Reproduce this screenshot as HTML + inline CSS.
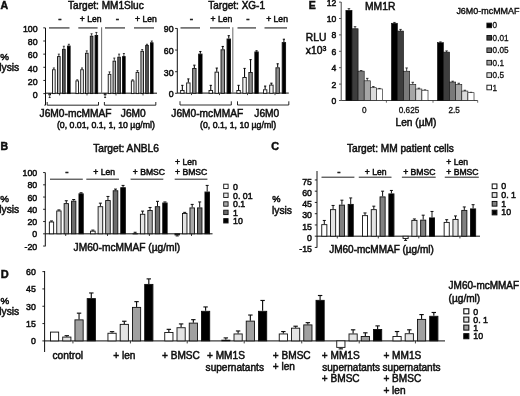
<!DOCTYPE html>
<html><head><meta charset="utf-8"><title>Figure</title>
<style>
html,body{margin:0;padding:0;background:#fff;}
body{width:520px;height:396px;overflow:hidden;}
svg{display:block;font-family:"Liberation Sans",sans-serif;}
</style></head><body>
<svg width="520" height="396" viewBox="0 0 520 396">
<defs><filter id="bl" x="0" y="0" width="520" height="396" filterUnits="userSpaceOnUse"><feGaussianBlur stdDeviation="0.4"/></filter></defs>
<rect x="0" y="0" width="520" height="396" fill="#fff"/>
<g filter="url(#bl)">
<text x="0.50" y="8.70" font-size="10.5" text-anchor="start" font-weight="bold" fill="#111" stroke="#111" stroke-width="0.5" >A</text>
<text x="68.00" y="8.70" font-size="10.1" text-anchor="start" font-weight="normal" fill="#111" stroke="#111" stroke-width="0.5" >Target: MM1Sluc</text>
<line x1="45.50" y1="28.00" x2="45.50" y2="105.20" stroke="#111" stroke-width="1.0"/>
<line x1="43.30" y1="93.60" x2="45.50" y2="93.60" stroke="#111" stroke-width="0.9"/>
<text x="37.60" y="97.90" font-size="8.8" text-anchor="end" font-weight="normal" fill="#111" stroke="#111" stroke-width="0.5" >0</text>
<line x1="43.30" y1="80.45" x2="45.50" y2="80.45" stroke="#111" stroke-width="0.9"/>
<text x="37.60" y="84.75" font-size="8.8" text-anchor="end" font-weight="normal" fill="#111" stroke="#111" stroke-width="0.5" >20</text>
<line x1="43.30" y1="67.30" x2="45.50" y2="67.30" stroke="#111" stroke-width="0.9"/>
<text x="37.60" y="71.60" font-size="8.8" text-anchor="end" font-weight="normal" fill="#111" stroke="#111" stroke-width="0.5" >40</text>
<line x1="43.30" y1="54.15" x2="45.50" y2="54.15" stroke="#111" stroke-width="0.9"/>
<text x="37.60" y="58.45" font-size="8.8" text-anchor="end" font-weight="normal" fill="#111" stroke="#111" stroke-width="0.5" >60</text>
<line x1="43.30" y1="41.00" x2="45.50" y2="41.00" stroke="#111" stroke-width="0.9"/>
<text x="37.60" y="45.30" font-size="8.8" text-anchor="end" font-weight="normal" fill="#111" stroke="#111" stroke-width="0.5" >80</text>
<line x1="43.30" y1="27.85" x2="45.50" y2="27.85" stroke="#111" stroke-width="0.9"/>
<text x="37.60" y="32.15" font-size="8.8" text-anchor="end" font-weight="normal" fill="#111" stroke="#111" stroke-width="0.5" >100</text>
<line x1="44.30" y1="105.20" x2="45.50" y2="105.20" stroke="#111" stroke-width="0.9"/>
<line x1="45.50" y1="93.20" x2="157.00" y2="93.20" stroke="#111" stroke-width="1.0"/>
<text x="0.30" y="59.60" font-size="9.8" text-anchor="start" font-weight="normal" fill="#111" stroke="#111" stroke-width="0.5" >%</text>
<text x="-0.80" y="71.30" font-size="10.3" text-anchor="start" font-weight="normal" fill="#111" stroke="#111" stroke-width="0.5" >lysis</text>
<line x1="49.00" y1="27.90" x2="69.50" y2="27.90" stroke="#5c5c5c" stroke-width="1.5"/>
<line x1="78.30" y1="27.90" x2="97.60" y2="27.90" stroke="#5c5c5c" stroke-width="1.5"/>
<line x1="105.00" y1="27.90" x2="125.00" y2="27.90" stroke="#5c5c5c" stroke-width="1.5"/>
<line x1="134.00" y1="27.90" x2="154.00" y2="27.90" stroke="#5c5c5c" stroke-width="1.5"/>
<line x1="101.60" y1="27.30" x2="101.60" y2="93.60" stroke="#777" stroke-width="1.1"/>
<text x="60.00" y="22.00" font-size="10" text-anchor="middle" font-weight="normal" fill="#111" stroke="#111" stroke-width="0.5" >-</text>
<text x="79.80" y="22.00" font-size="8.6" text-anchor="start" font-weight="normal" fill="#111" stroke="#111" stroke-width="0.5" >+ Len</text>
<text x="117.50" y="22.00" font-size="10" text-anchor="middle" font-weight="normal" fill="#111" stroke="#111" stroke-width="0.5" >-</text>
<text x="135.00" y="22.00" font-size="8.6" text-anchor="start" font-weight="normal" fill="#111" stroke="#111" stroke-width="0.5" >+ Len</text>
<line x1="49.70" y1="95.24" x2="49.70" y2="97.54" stroke="#111" stroke-width="0.8"/>
<line x1="48.70" y1="97.54" x2="50.70" y2="97.54" stroke="#111" stroke-width="0.8"/>
<rect x="48.85" y="93.60" width="1.70" height="1.19" fill="#fff" stroke="#111" stroke-width="0.9"/>
<line x1="53.85" y1="69.27" x2="53.85" y2="67.96" stroke="#111" stroke-width="0.8"/>
<line x1="52.85" y1="67.96" x2="54.85" y2="67.96" stroke="#111" stroke-width="0.8"/>
<rect x="52.55" y="69.72" width="2.60" height="23.88" fill="#f2f2f2" stroke="#111" stroke-width="0.9"/>
<line x1="58.85" y1="56.12" x2="58.85" y2="54.15" stroke="#111" stroke-width="0.8"/>
<line x1="57.85" y1="54.15" x2="59.85" y2="54.15" stroke="#111" stroke-width="0.8"/>
<rect x="57.55" y="56.57" width="2.60" height="37.03" fill="#b4b4b4" stroke="#111" stroke-width="0.9"/>
<line x1="63.85" y1="48.89" x2="63.85" y2="46.26" stroke="#111" stroke-width="0.8"/>
<line x1="62.85" y1="46.26" x2="64.85" y2="46.26" stroke="#111" stroke-width="0.8"/>
<rect x="62.55" y="49.34" width="2.60" height="44.26" fill="#5a5a5a" stroke="#111" stroke-width="0.9"/>
<line x1="68.85" y1="45.60" x2="68.85" y2="44.29" stroke="#111" stroke-width="0.8"/>
<line x1="67.85" y1="44.29" x2="69.85" y2="44.29" stroke="#111" stroke-width="0.8"/>
<rect x="67.55" y="46.05" width="2.60" height="47.55" fill="#000" stroke="#111" stroke-width="0.9"/>
<line x1="77.25" y1="80.45" x2="77.25" y2="79.79" stroke="#111" stroke-width="0.8"/>
<line x1="76.25" y1="79.79" x2="78.25" y2="79.79" stroke="#111" stroke-width="0.8"/>
<rect x="75.95" y="80.90" width="2.60" height="12.70" fill="#fff" stroke="#111" stroke-width="0.9"/>
<line x1="82.03" y1="69.27" x2="82.03" y2="67.96" stroke="#111" stroke-width="0.8"/>
<line x1="81.03" y1="67.96" x2="83.03" y2="67.96" stroke="#111" stroke-width="0.8"/>
<rect x="80.73" y="69.72" width="2.60" height="23.88" fill="#f2f2f2" stroke="#111" stroke-width="0.9"/>
<line x1="86.81" y1="52.83" x2="86.81" y2="50.86" stroke="#111" stroke-width="0.8"/>
<line x1="85.81" y1="50.86" x2="87.81" y2="50.86" stroke="#111" stroke-width="0.8"/>
<rect x="85.51" y="53.28" width="2.60" height="40.31" fill="#b4b4b4" stroke="#111" stroke-width="0.9"/>
<line x1="91.59" y1="35.74" x2="91.59" y2="33.77" stroke="#111" stroke-width="0.8"/>
<line x1="90.59" y1="33.77" x2="92.59" y2="33.77" stroke="#111" stroke-width="0.8"/>
<rect x="90.29" y="36.19" width="2.60" height="57.41" fill="#5a5a5a" stroke="#111" stroke-width="0.9"/>
<line x1="96.37" y1="35.08" x2="96.37" y2="32.45" stroke="#111" stroke-width="0.8"/>
<line x1="95.37" y1="32.45" x2="97.37" y2="32.45" stroke="#111" stroke-width="0.8"/>
<rect x="95.07" y="35.53" width="2.60" height="58.07" fill="#000" stroke="#111" stroke-width="0.9"/>
<line x1="105.10" y1="95.24" x2="105.10" y2="97.54" stroke="#111" stroke-width="0.8"/>
<line x1="104.10" y1="97.54" x2="106.10" y2="97.54" stroke="#111" stroke-width="0.8"/>
<rect x="104.25" y="93.60" width="1.70" height="1.19" fill="#fff" stroke="#111" stroke-width="0.9"/>
<line x1="109.53" y1="73.88" x2="109.53" y2="71.90" stroke="#111" stroke-width="0.8"/>
<line x1="108.53" y1="71.90" x2="110.53" y2="71.90" stroke="#111" stroke-width="0.8"/>
<rect x="108.23" y="74.33" width="2.60" height="19.27" fill="#f2f2f2" stroke="#111" stroke-width="0.9"/>
<line x1="114.31" y1="60.72" x2="114.31" y2="58.09" stroke="#111" stroke-width="0.8"/>
<line x1="113.31" y1="58.09" x2="115.31" y2="58.09" stroke="#111" stroke-width="0.8"/>
<rect x="113.01" y="61.17" width="2.60" height="32.42" fill="#b4b4b4" stroke="#111" stroke-width="0.9"/>
<line x1="119.09" y1="56.78" x2="119.09" y2="54.15" stroke="#111" stroke-width="0.8"/>
<line x1="118.09" y1="54.15" x2="120.09" y2="54.15" stroke="#111" stroke-width="0.8"/>
<rect x="117.79" y="57.23" width="2.60" height="36.37" fill="#5a5a5a" stroke="#111" stroke-width="0.9"/>
<line x1="123.87" y1="56.12" x2="123.87" y2="53.49" stroke="#111" stroke-width="0.8"/>
<line x1="122.87" y1="53.49" x2="124.87" y2="53.49" stroke="#111" stroke-width="0.8"/>
<rect x="122.57" y="56.57" width="2.60" height="37.03" fill="#000" stroke="#111" stroke-width="0.9"/>
<line x1="132.65" y1="80.45" x2="132.65" y2="79.79" stroke="#111" stroke-width="0.8"/>
<line x1="131.65" y1="79.79" x2="133.65" y2="79.79" stroke="#111" stroke-width="0.8"/>
<rect x="131.35" y="80.90" width="2.60" height="12.70" fill="#fff" stroke="#111" stroke-width="0.9"/>
<line x1="137.43" y1="71.90" x2="137.43" y2="70.59" stroke="#111" stroke-width="0.8"/>
<line x1="136.43" y1="70.59" x2="138.43" y2="70.59" stroke="#111" stroke-width="0.8"/>
<rect x="136.13" y="72.35" width="2.60" height="21.25" fill="#f2f2f2" stroke="#111" stroke-width="0.9"/>
<line x1="142.21" y1="50.86" x2="142.21" y2="49.55" stroke="#111" stroke-width="0.8"/>
<line x1="141.21" y1="49.55" x2="143.21" y2="49.55" stroke="#111" stroke-width="0.8"/>
<rect x="140.91" y="51.31" width="2.60" height="42.29" fill="#b4b4b4" stroke="#111" stroke-width="0.9"/>
<line x1="146.99" y1="44.94" x2="146.99" y2="44.29" stroke="#111" stroke-width="0.8"/>
<line x1="145.99" y1="44.29" x2="147.99" y2="44.29" stroke="#111" stroke-width="0.8"/>
<rect x="145.69" y="45.39" width="2.60" height="48.20" fill="#5a5a5a" stroke="#111" stroke-width="0.9"/>
<line x1="151.77" y1="42.31" x2="151.77" y2="41.00" stroke="#111" stroke-width="0.8"/>
<line x1="150.77" y1="41.00" x2="152.77" y2="41.00" stroke="#111" stroke-width="0.8"/>
<rect x="150.47" y="42.77" width="2.60" height="50.83" fill="#000" stroke="#111" stroke-width="0.9"/>
<polyline points="47.2,102 47.2,105.2 98.5,105.2 98.5,102" fill="none" stroke="#111" stroke-width="0.9"/>
<polyline points="104.4,102 104.4,105.2 155.8,105.2 155.8,102" fill="none" stroke="#111" stroke-width="0.9"/>
<line x1="59.60" y1="93.60" x2="59.60" y2="95.40" stroke="#111" stroke-width="0.8"/>
<line x1="87.00" y1="93.60" x2="87.00" y2="95.40" stroke="#111" stroke-width="0.8"/>
<line x1="116.00" y1="93.60" x2="116.00" y2="95.40" stroke="#111" stroke-width="0.8"/>
<line x1="143.00" y1="93.60" x2="143.00" y2="95.40" stroke="#111" stroke-width="0.8"/>
<text x="39.60" y="116.60" font-size="10.2" text-anchor="start" font-weight="normal" fill="#111" stroke="#111" stroke-width="0.5" >J6M0-mcMMAF</text>
<text x="120.80" y="116.60" font-size="10.2" text-anchor="start" font-weight="normal" fill="#111" stroke="#111" stroke-width="0.5" >J6M0</text>
<text x="56.90" y="128.40" font-size="8.75" text-anchor="start" font-weight="normal" fill="#111" stroke="#111" stroke-width="0.5" >(0, 0.01, 0.1, 1, 10 µg/ml)</text>
<text x="208.30" y="8.70" font-size="10.0" text-anchor="start" font-weight="normal" fill="#111" stroke="#111" stroke-width="0.5" >Target: XG-1</text>
<line x1="177.30" y1="28.30" x2="177.30" y2="93.30" stroke="#111" stroke-width="1.0"/>
<line x1="175.10" y1="93.30" x2="177.30" y2="93.30" stroke="#111" stroke-width="0.9"/>
<text x="173.60" y="97.20" font-size="8.8" text-anchor="end" font-weight="normal" fill="#111" stroke="#111" stroke-width="0.5" >0</text>
<line x1="175.10" y1="71.69" x2="177.30" y2="71.69" stroke="#111" stroke-width="0.9"/>
<text x="173.60" y="75.59" font-size="8.8" text-anchor="end" font-weight="normal" fill="#111" stroke="#111" stroke-width="0.5" >30</text>
<line x1="175.10" y1="50.07" x2="177.30" y2="50.07" stroke="#111" stroke-width="0.9"/>
<text x="173.60" y="53.97" font-size="8.8" text-anchor="end" font-weight="normal" fill="#111" stroke="#111" stroke-width="0.5" >60</text>
<line x1="175.10" y1="28.45" x2="177.30" y2="28.45" stroke="#111" stroke-width="0.9"/>
<text x="173.60" y="32.35" font-size="8.8" text-anchor="end" font-weight="normal" fill="#111" stroke="#111" stroke-width="0.5" >90</text>
<line x1="177.30" y1="93.10" x2="288.80" y2="93.10" stroke="#111" stroke-width="1.0"/>
<line x1="180.50" y1="27.90" x2="200.00" y2="27.90" stroke="#5c5c5c" stroke-width="1.5"/>
<line x1="210.00" y1="27.90" x2="230.00" y2="27.90" stroke="#5c5c5c" stroke-width="1.5"/>
<line x1="237.50" y1="27.90" x2="256.00" y2="27.90" stroke="#5c5c5c" stroke-width="1.5"/>
<line x1="264.50" y1="27.90" x2="287.00" y2="27.90" stroke="#5c5c5c" stroke-width="1.5"/>
<line x1="232.80" y1="27.30" x2="232.80" y2="93.30" stroke="#777" stroke-width="1.1"/>
<text x="191.50" y="22.00" font-size="10" text-anchor="middle" font-weight="normal" fill="#111" stroke="#111" stroke-width="0.5" >-</text>
<text x="210.50" y="22.00" font-size="8.6" text-anchor="start" font-weight="normal" fill="#111" stroke="#111" stroke-width="0.5" >+ Len</text>
<text x="248.00" y="22.00" font-size="10" text-anchor="middle" font-weight="normal" fill="#111" stroke="#111" stroke-width="0.5" >-</text>
<text x="266.20" y="22.00" font-size="8.6" text-anchor="start" font-weight="normal" fill="#111" stroke="#111" stroke-width="0.5" >+ Len</text>
<line x1="182.35" y1="90.06" x2="182.35" y2="85.37" stroke="#111" stroke-width="1.1"/>
<line x1="181.25" y1="85.37" x2="183.45" y2="85.37" stroke="#111" stroke-width="1.1"/>
<rect x="180.65" y="90.51" width="3.40" height="2.79" fill="#fff" stroke="#111" stroke-width="0.9"/>
<line x1="188.35" y1="82.49" x2="188.35" y2="78.89" stroke="#111" stroke-width="1.1"/>
<line x1="187.25" y1="78.89" x2="189.45" y2="78.89" stroke="#111" stroke-width="1.1"/>
<rect x="186.65" y="82.94" width="3.40" height="10.36" fill="#f2f2f2" stroke="#111" stroke-width="0.9"/>
<line x1="194.35" y1="68.08" x2="194.35" y2="65.20" stroke="#111" stroke-width="1.1"/>
<line x1="193.25" y1="65.20" x2="195.45" y2="65.20" stroke="#111" stroke-width="1.1"/>
<rect x="192.65" y="68.53" width="3.40" height="24.77" fill="#909090" stroke="#111" stroke-width="0.9"/>
<line x1="200.35" y1="53.67" x2="200.35" y2="51.51" stroke="#111" stroke-width="1.1"/>
<line x1="199.25" y1="51.51" x2="201.45" y2="51.51" stroke="#111" stroke-width="1.1"/>
<rect x="198.65" y="54.12" width="3.40" height="39.18" fill="#000" stroke="#111" stroke-width="0.9"/>
<line x1="210.75" y1="90.06" x2="210.75" y2="85.37" stroke="#111" stroke-width="1.1"/>
<line x1="209.65" y1="85.37" x2="211.85" y2="85.37" stroke="#111" stroke-width="1.1"/>
<rect x="209.05" y="90.51" width="3.40" height="2.79" fill="#fff" stroke="#111" stroke-width="0.9"/>
<line x1="216.75" y1="71.69" x2="216.75" y2="68.08" stroke="#111" stroke-width="1.1"/>
<line x1="215.65" y1="68.08" x2="217.85" y2="68.08" stroke="#111" stroke-width="1.1"/>
<rect x="215.05" y="72.14" width="3.40" height="21.16" fill="#f2f2f2" stroke="#111" stroke-width="0.9"/>
<line x1="222.75" y1="49.35" x2="222.75" y2="46.47" stroke="#111" stroke-width="1.1"/>
<line x1="221.65" y1="46.47" x2="223.85" y2="46.47" stroke="#111" stroke-width="1.1"/>
<rect x="221.05" y="49.80" width="3.40" height="43.50" fill="#909090" stroke="#111" stroke-width="0.9"/>
<line x1="228.75" y1="38.54" x2="228.75" y2="35.66" stroke="#111" stroke-width="1.1"/>
<line x1="227.65" y1="35.66" x2="229.85" y2="35.66" stroke="#111" stroke-width="1.1"/>
<rect x="227.05" y="38.99" width="3.40" height="54.31" fill="#000" stroke="#111" stroke-width="0.9"/>
<line x1="238.55" y1="90.06" x2="238.55" y2="85.37" stroke="#111" stroke-width="1.1"/>
<line x1="237.45" y1="85.37" x2="239.65" y2="85.37" stroke="#111" stroke-width="1.1"/>
<rect x="236.85" y="90.51" width="3.40" height="2.79" fill="#fff" stroke="#111" stroke-width="0.9"/>
<line x1="244.55" y1="77.09" x2="244.55" y2="68.44" stroke="#111" stroke-width="1.1"/>
<line x1="243.45" y1="68.44" x2="245.65" y2="68.44" stroke="#111" stroke-width="1.1"/>
<rect x="242.85" y="77.54" width="3.40" height="15.76" fill="#f2f2f2" stroke="#111" stroke-width="0.9"/>
<line x1="250.55" y1="72.05" x2="250.55" y2="59.58" stroke="#111" stroke-width="1.1"/>
<line x1="249.45" y1="59.58" x2="251.65" y2="59.58" stroke="#111" stroke-width="1.1"/>
<rect x="248.85" y="72.50" width="3.40" height="20.80" fill="#909090" stroke="#111" stroke-width="0.9"/>
<line x1="256.55" y1="51.51" x2="256.55" y2="50.79" stroke="#111" stroke-width="1.1"/>
<line x1="255.45" y1="50.79" x2="257.65" y2="50.79" stroke="#111" stroke-width="1.1"/>
<rect x="254.85" y="51.96" width="3.40" height="41.34" fill="#000" stroke="#111" stroke-width="0.9"/>
<line x1="265.15" y1="89.34" x2="265.15" y2="86.09" stroke="#111" stroke-width="1.1"/>
<line x1="264.05" y1="86.09" x2="266.25" y2="86.09" stroke="#111" stroke-width="1.1"/>
<rect x="263.45" y="89.79" width="3.40" height="3.51" fill="#fff" stroke="#111" stroke-width="0.9"/>
<line x1="271.40" y1="84.65" x2="271.40" y2="83.21" stroke="#111" stroke-width="1.1"/>
<line x1="270.30" y1="83.21" x2="272.50" y2="83.21" stroke="#111" stroke-width="1.1"/>
<rect x="269.70" y="85.10" width="3.40" height="8.20" fill="#f2f2f2" stroke="#111" stroke-width="0.9"/>
<line x1="277.65" y1="67.36" x2="277.65" y2="63.76" stroke="#111" stroke-width="1.1"/>
<line x1="276.55" y1="63.76" x2="278.75" y2="63.76" stroke="#111" stroke-width="1.1"/>
<rect x="275.95" y="67.81" width="3.40" height="25.49" fill="#909090" stroke="#111" stroke-width="0.9"/>
<line x1="283.90" y1="42.14" x2="283.90" y2="39.26" stroke="#111" stroke-width="1.1"/>
<line x1="282.80" y1="39.26" x2="285.00" y2="39.26" stroke="#111" stroke-width="1.1"/>
<rect x="282.20" y="42.59" width="3.40" height="50.71" fill="#000" stroke="#111" stroke-width="0.9"/>
<polyline points="180,101.3 180,105 231.3,105 231.3,101.3" fill="none" stroke="#111" stroke-width="0.9"/>
<polyline points="237.5,101.3 237.5,105 288.8,105 288.8,101.3" fill="none" stroke="#111" stroke-width="0.9"/>
<line x1="191.50" y1="93.30" x2="191.50" y2="95.10" stroke="#111" stroke-width="0.8"/>
<line x1="219.50" y1="93.30" x2="219.50" y2="95.10" stroke="#111" stroke-width="0.8"/>
<line x1="247.50" y1="93.30" x2="247.50" y2="95.10" stroke="#111" stroke-width="0.8"/>
<line x1="275.00" y1="93.30" x2="275.00" y2="95.10" stroke="#111" stroke-width="0.8"/>
<text x="171.30" y="116.60" font-size="10.2" text-anchor="start" font-weight="normal" fill="#111" stroke="#111" stroke-width="0.5" >J6M0-mcMMAF</text>
<text x="254.30" y="116.60" font-size="10.2" text-anchor="start" font-weight="normal" fill="#111" stroke="#111" stroke-width="0.5" >J6M0</text>
<text x="200.00" y="128.40" font-size="8.75" text-anchor="start" font-weight="normal" fill="#111" stroke="#111" stroke-width="0.5" >(0, 0.1, 1, 10 µg/ml)</text>
<text x="308.70" y="8.70" font-size="10.5" text-anchor="start" font-weight="bold" fill="#111" stroke="#111" stroke-width="0.5" >E</text>
<text x="365.00" y="10.20" font-size="10.3" text-anchor="start" font-weight="normal" fill="#111" stroke="#111" stroke-width="0.5" >MM1R</text>
<line x1="341.20" y1="2.00" x2="341.20" y2="100.50" stroke="#444" stroke-width="1.0"/>
<line x1="339.00" y1="100.50" x2="341.20" y2="100.50" stroke="#444" stroke-width="0.9"/>
<text x="336.30" y="103.90" font-size="8.6" text-anchor="end" font-weight="normal" fill="#111" stroke="#111" stroke-width="0.5" >0</text>
<line x1="339.00" y1="84.10" x2="341.20" y2="84.10" stroke="#444" stroke-width="0.9"/>
<text x="336.30" y="87.50" font-size="8.6" text-anchor="end" font-weight="normal" fill="#111" stroke="#111" stroke-width="0.5" >2</text>
<line x1="339.00" y1="67.70" x2="341.20" y2="67.70" stroke="#444" stroke-width="0.9"/>
<text x="336.30" y="71.10" font-size="8.6" text-anchor="end" font-weight="normal" fill="#111" stroke="#111" stroke-width="0.5" >4</text>
<line x1="339.00" y1="51.30" x2="341.20" y2="51.30" stroke="#444" stroke-width="0.9"/>
<text x="336.30" y="54.70" font-size="8.6" text-anchor="end" font-weight="normal" fill="#111" stroke="#111" stroke-width="0.5" >6</text>
<line x1="339.00" y1="34.90" x2="341.20" y2="34.90" stroke="#444" stroke-width="0.9"/>
<text x="336.30" y="38.30" font-size="8.6" text-anchor="end" font-weight="normal" fill="#111" stroke="#111" stroke-width="0.5" >8</text>
<line x1="339.00" y1="18.50" x2="341.20" y2="18.50" stroke="#444" stroke-width="0.9"/>
<text x="336.30" y="21.90" font-size="8.6" text-anchor="end" font-weight="normal" fill="#111" stroke="#111" stroke-width="0.5" >10</text>
<line x1="339.00" y1="2.10" x2="341.20" y2="2.10" stroke="#444" stroke-width="0.9"/>
<text x="336.30" y="5.50" font-size="8.6" text-anchor="end" font-weight="normal" fill="#111" stroke="#111" stroke-width="0.5" >12</text>
<line x1="341.20" y1="100.50" x2="477.70" y2="100.50" stroke="#444" stroke-width="1.0"/>
<text x="305.80" y="41.30" font-size="10.3" text-anchor="start" font-weight="normal" fill="#111" stroke="#111" stroke-width="0.5" >RLU</text>
<text x="305.80" y="53.80" font-size="10.3" text-anchor="start" font-weight="normal" fill="#111" stroke="#111" stroke-width="0.5" >x10<tspan font-size="7" dy="-3.2">3</tspan></text>
<line x1="348.95" y1="10.30" x2="348.95" y2="8.66" stroke="#111" stroke-width="0.8"/>
<line x1="347.70" y1="8.66" x2="350.20" y2="8.66" stroke="#111" stroke-width="0.8"/>
<rect x="345.90" y="10.30" width="6.10" height="90.20" fill="#000" stroke="#111" stroke-width="0.6"/>
<line x1="355.05" y1="28.75" x2="355.05" y2="26.70" stroke="#111" stroke-width="0.8"/>
<line x1="353.80" y1="26.70" x2="356.30" y2="26.70" stroke="#111" stroke-width="0.8"/>
<rect x="352.00" y="28.75" width="6.10" height="71.75" fill="#3c3c3c" stroke="#111" stroke-width="0.6"/>
<line x1="361.15" y1="71.14" x2="361.15" y2="70.57" stroke="#111" stroke-width="0.8"/>
<line x1="359.90" y1="70.57" x2="362.40" y2="70.57" stroke="#111" stroke-width="0.8"/>
<rect x="358.10" y="71.14" width="6.10" height="29.36" fill="#7a7a7a" stroke="#111" stroke-width="0.6"/>
<line x1="367.25" y1="80.82" x2="367.25" y2="78.36" stroke="#111" stroke-width="0.8"/>
<line x1="366.00" y1="78.36" x2="368.50" y2="78.36" stroke="#111" stroke-width="0.8"/>
<rect x="364.20" y="80.82" width="6.10" height="19.68" fill="#a6a6a6" stroke="#111" stroke-width="0.6"/>
<line x1="373.35" y1="87.71" x2="373.35" y2="86.56" stroke="#111" stroke-width="0.8"/>
<line x1="372.10" y1="86.56" x2="374.60" y2="86.56" stroke="#111" stroke-width="0.8"/>
<rect x="370.30" y="87.71" width="6.10" height="12.79" fill="#dcdcdc" stroke="#111" stroke-width="0.6"/>
<line x1="379.45" y1="88.94" x2="379.45" y2="88.45" stroke="#111" stroke-width="0.8"/>
<line x1="378.20" y1="88.45" x2="380.70" y2="88.45" stroke="#111" stroke-width="0.8"/>
<rect x="376.40" y="88.94" width="6.10" height="11.56" fill="#fff" stroke="#111" stroke-width="0.6"/>
<line x1="394.45" y1="23.26" x2="394.45" y2="22.44" stroke="#111" stroke-width="0.8"/>
<line x1="393.20" y1="22.44" x2="395.70" y2="22.44" stroke="#111" stroke-width="0.8"/>
<rect x="391.40" y="23.26" width="6.10" height="77.24" fill="#000" stroke="#111" stroke-width="0.6"/>
<line x1="400.55" y1="31.05" x2="400.55" y2="29.41" stroke="#111" stroke-width="0.8"/>
<line x1="399.30" y1="29.41" x2="401.80" y2="29.41" stroke="#111" stroke-width="0.8"/>
<rect x="397.50" y="31.05" width="6.10" height="69.45" fill="#3c3c3c" stroke="#111" stroke-width="0.6"/>
<line x1="406.65" y1="71.23" x2="406.65" y2="67.95" stroke="#111" stroke-width="0.8"/>
<line x1="405.40" y1="67.95" x2="407.90" y2="67.95" stroke="#111" stroke-width="0.8"/>
<rect x="403.60" y="71.23" width="6.10" height="29.27" fill="#7a7a7a" stroke="#111" stroke-width="0.6"/>
<line x1="412.75" y1="84.35" x2="412.75" y2="82.30" stroke="#111" stroke-width="0.8"/>
<line x1="411.50" y1="82.30" x2="414.00" y2="82.30" stroke="#111" stroke-width="0.8"/>
<rect x="409.70" y="84.35" width="6.10" height="16.15" fill="#a6a6a6" stroke="#111" stroke-width="0.6"/>
<line x1="418.85" y1="89.02" x2="418.85" y2="88.20" stroke="#111" stroke-width="0.8"/>
<line x1="417.60" y1="88.20" x2="420.10" y2="88.20" stroke="#111" stroke-width="0.8"/>
<rect x="415.80" y="89.02" width="6.10" height="11.48" fill="#dcdcdc" stroke="#111" stroke-width="0.6"/>
<line x1="424.95" y1="90.25" x2="424.95" y2="89.84" stroke="#111" stroke-width="0.8"/>
<line x1="423.70" y1="89.84" x2="426.20" y2="89.84" stroke="#111" stroke-width="0.8"/>
<rect x="421.90" y="90.25" width="6.10" height="10.25" fill="#fff" stroke="#111" stroke-width="0.6"/>
<line x1="440.45" y1="42.69" x2="440.45" y2="41.87" stroke="#111" stroke-width="0.8"/>
<line x1="439.20" y1="41.87" x2="441.70" y2="41.87" stroke="#111" stroke-width="0.8"/>
<rect x="437.40" y="42.69" width="6.10" height="57.81" fill="#000" stroke="#111" stroke-width="0.6"/>
<line x1="446.55" y1="52.12" x2="446.55" y2="50.89" stroke="#111" stroke-width="0.8"/>
<line x1="445.30" y1="50.89" x2="447.80" y2="50.89" stroke="#111" stroke-width="0.8"/>
<rect x="443.50" y="52.12" width="6.10" height="48.38" fill="#3c3c3c" stroke="#111" stroke-width="0.6"/>
<line x1="452.65" y1="82.05" x2="452.65" y2="81.23" stroke="#111" stroke-width="0.8"/>
<line x1="451.40" y1="81.23" x2="453.90" y2="81.23" stroke="#111" stroke-width="0.8"/>
<rect x="449.60" y="82.05" width="6.10" height="18.45" fill="#7a7a7a" stroke="#111" stroke-width="0.6"/>
<line x1="458.75" y1="84.51" x2="458.75" y2="83.28" stroke="#111" stroke-width="0.8"/>
<line x1="457.50" y1="83.28" x2="460.00" y2="83.28" stroke="#111" stroke-width="0.8"/>
<rect x="455.70" y="84.51" width="6.10" height="15.99" fill="#a6a6a6" stroke="#111" stroke-width="0.6"/>
<line x1="464.85" y1="91.07" x2="464.85" y2="90.25" stroke="#111" stroke-width="0.8"/>
<line x1="463.60" y1="90.25" x2="466.10" y2="90.25" stroke="#111" stroke-width="0.8"/>
<rect x="461.80" y="91.07" width="6.10" height="9.43" fill="#dcdcdc" stroke="#111" stroke-width="0.6"/>
<line x1="470.95" y1="92.71" x2="470.95" y2="92.30" stroke="#111" stroke-width="0.8"/>
<line x1="469.70" y1="92.30" x2="472.20" y2="92.30" stroke="#111" stroke-width="0.8"/>
<rect x="467.90" y="92.71" width="6.10" height="7.79" fill="#fff" stroke="#111" stroke-width="0.6"/>
<line x1="386.40" y1="100.50" x2="386.40" y2="102.70" stroke="#444" stroke-width="0.8"/>
<line x1="433.00" y1="100.50" x2="433.00" y2="102.70" stroke="#444" stroke-width="0.8"/>
<line x1="477.70" y1="100.50" x2="477.70" y2="102.70" stroke="#444" stroke-width="0.8"/>
<text x="364.40" y="113.00" font-size="8.2" text-anchor="middle" font-weight="normal" fill="#111" stroke="#111" stroke-width="0.3" >0</text>
<text x="409.00" y="113.00" font-size="8.2" text-anchor="middle" font-weight="normal" fill="#111" stroke="#111" stroke-width="0.3" >0.625</text>
<text x="454.20" y="113.00" font-size="8.2" text-anchor="middle" font-weight="normal" fill="#111" stroke="#111" stroke-width="0.3" >2.5</text>
<text x="395.50" y="126.00" font-size="10.2" text-anchor="start" font-weight="normal" fill="#111" stroke="#111" stroke-width="0.5" >Len (µM)</text>
<text x="456.40" y="13.80" font-size="8.95" text-anchor="start" font-weight="normal" fill="#111" stroke="#111" stroke-width="0.4" >J6M0-mcMMAF</text>
<rect x="486.90" y="23.10" width="4.60" height="4.60" fill="#000" stroke="#111" stroke-width="0.9"/>
<text x="492.60" y="28.40" font-size="8.2" text-anchor="start" font-weight="normal" fill="#111" stroke="#111" stroke-width="0.3" >0</text>
<rect x="486.90" y="35.52" width="4.60" height="4.60" fill="#3c3c3c" stroke="#111" stroke-width="0.9"/>
<text x="492.60" y="40.82" font-size="8.2" text-anchor="start" font-weight="normal" fill="#111" stroke="#111" stroke-width="0.3" >0.01</text>
<rect x="486.90" y="47.94" width="4.60" height="4.60" fill="#7a7a7a" stroke="#111" stroke-width="0.9"/>
<text x="492.60" y="53.24" font-size="8.2" text-anchor="start" font-weight="normal" fill="#111" stroke="#111" stroke-width="0.3" >0.05</text>
<rect x="486.90" y="60.36" width="4.60" height="4.60" fill="#a6a6a6" stroke="#111" stroke-width="0.9"/>
<text x="492.60" y="65.66" font-size="8.2" text-anchor="start" font-weight="normal" fill="#111" stroke="#111" stroke-width="0.3" >0.1</text>
<rect x="486.90" y="72.78" width="4.60" height="4.60" fill="#dcdcdc" stroke="#111" stroke-width="0.9"/>
<text x="492.60" y="78.08" font-size="8.2" text-anchor="start" font-weight="normal" fill="#111" stroke="#111" stroke-width="0.3" >0.5</text>
<rect x="486.90" y="85.20" width="4.60" height="4.60" fill="#fff" stroke="#111" stroke-width="0.9"/>
<text x="492.60" y="90.50" font-size="8.2" text-anchor="start" font-weight="normal" fill="#111" stroke="#111" stroke-width="0.3" >1</text>
<text x="0.50" y="149.60" font-size="10.5" text-anchor="start" font-weight="bold" fill="#111" stroke="#111" stroke-width="0.5" >B</text>
<text x="93.20" y="152.20" font-size="10.2" text-anchor="start" font-weight="normal" fill="#111" stroke="#111" stroke-width="0.5" >Target: ANBL6</text>
<line x1="45.30" y1="172.60" x2="45.30" y2="246.30" stroke="#111" stroke-width="1.0"/>
<line x1="43.10" y1="246.05" x2="45.30" y2="246.05" stroke="#111" stroke-width="0.9"/>
<text x="37.20" y="249.65" font-size="8.8" text-anchor="end" font-weight="normal" fill="#111" stroke="#111" stroke-width="0.5" >-20</text>
<line x1="43.10" y1="233.80" x2="45.30" y2="233.80" stroke="#111" stroke-width="0.9"/>
<text x="37.20" y="237.40" font-size="8.8" text-anchor="end" font-weight="normal" fill="#111" stroke="#111" stroke-width="0.5" >0</text>
<line x1="43.10" y1="221.55" x2="45.30" y2="221.55" stroke="#111" stroke-width="0.9"/>
<text x="37.20" y="225.15" font-size="8.8" text-anchor="end" font-weight="normal" fill="#111" stroke="#111" stroke-width="0.5" >20</text>
<line x1="43.10" y1="209.30" x2="45.30" y2="209.30" stroke="#111" stroke-width="0.9"/>
<text x="37.20" y="212.90" font-size="8.8" text-anchor="end" font-weight="normal" fill="#111" stroke="#111" stroke-width="0.5" >40</text>
<line x1="43.10" y1="197.05" x2="45.30" y2="197.05" stroke="#111" stroke-width="0.9"/>
<text x="37.20" y="200.65" font-size="8.8" text-anchor="end" font-weight="normal" fill="#111" stroke="#111" stroke-width="0.5" >60</text>
<line x1="43.10" y1="184.80" x2="45.30" y2="184.80" stroke="#111" stroke-width="0.9"/>
<text x="37.20" y="188.40" font-size="8.8" text-anchor="end" font-weight="normal" fill="#111" stroke="#111" stroke-width="0.5" >80</text>
<line x1="43.10" y1="172.55" x2="45.30" y2="172.55" stroke="#111" stroke-width="0.9"/>
<text x="37.20" y="176.15" font-size="8.8" text-anchor="end" font-weight="normal" fill="#111" stroke="#111" stroke-width="0.5" >100</text>
<line x1="45.50" y1="233.80" x2="212.50" y2="233.80" stroke="#111" stroke-width="1.0"/>
<text x="0.30" y="201.70" font-size="9.8" text-anchor="start" font-weight="normal" fill="#111" stroke="#111" stroke-width="0.5" >%</text>
<text x="-0.80" y="213.30" font-size="10.3" text-anchor="start" font-weight="normal" fill="#111" stroke="#111" stroke-width="0.5" >lysis</text>
<line x1="50.00" y1="179.20" x2="82.80" y2="179.20" stroke="#222" stroke-width="1.0"/>
<line x1="86.30" y1="179.20" x2="119.00" y2="179.20" stroke="#222" stroke-width="1.0"/>
<line x1="130.60" y1="179.20" x2="163.30" y2="179.20" stroke="#222" stroke-width="1.0"/>
<line x1="174.70" y1="179.20" x2="207.40" y2="179.20" stroke="#222" stroke-width="1.0"/>
<text x="67.00" y="175.20" font-size="10" text-anchor="middle" font-weight="normal" fill="#111" stroke="#111" stroke-width="0.5" >-</text>
<text x="93.30" y="175.30" font-size="8.6" text-anchor="start" font-weight="normal" fill="#111" stroke="#111" stroke-width="0.5" >+ Len</text>
<text x="132.80" y="175.30" font-size="8.6" text-anchor="start" font-weight="normal" fill="#111" stroke="#111" stroke-width="0.5" >+ BMSC</text>
<text x="175.00" y="165.00" font-size="8.6" text-anchor="start" font-weight="normal" fill="#111" stroke="#111" stroke-width="0.5" >+ Len</text>
<text x="175.00" y="175.00" font-size="8.6" text-anchor="start" font-weight="normal" fill="#111" stroke="#111" stroke-width="0.5" >+ BMSC</text>
<line x1="51.50" y1="221.55" x2="51.50" y2="220.94" stroke="#111" stroke-width="1.0"/>
<line x1="50.00" y1="220.94" x2="53.00" y2="220.94" stroke="#111" stroke-width="1.0"/>
<rect x="49.35" y="222.00" width="4.30" height="11.80" fill="#fff" stroke="#111" stroke-width="0.9"/>
<line x1="58.90" y1="210.53" x2="58.90" y2="209.91" stroke="#111" stroke-width="1.0"/>
<line x1="57.40" y1="209.91" x2="60.40" y2="209.91" stroke="#111" stroke-width="1.0"/>
<rect x="56.75" y="210.97" width="4.30" height="22.83" fill="#e4e4e4" stroke="#111" stroke-width="0.9"/>
<line x1="66.30" y1="203.18" x2="66.30" y2="200.73" stroke="#111" stroke-width="1.0"/>
<line x1="64.80" y1="200.73" x2="67.80" y2="200.73" stroke="#111" stroke-width="1.0"/>
<rect x="64.15" y="203.62" width="4.30" height="30.18" fill="#a8a8a8" stroke="#111" stroke-width="0.9"/>
<line x1="73.70" y1="200.73" x2="73.70" y2="199.50" stroke="#111" stroke-width="1.0"/>
<line x1="72.20" y1="199.50" x2="75.20" y2="199.50" stroke="#111" stroke-width="1.0"/>
<rect x="71.55" y="201.18" width="4.30" height="32.62" fill="#6c6c6c" stroke="#111" stroke-width="0.9"/>
<line x1="81.10" y1="193.38" x2="81.10" y2="192.76" stroke="#111" stroke-width="1.0"/>
<line x1="79.60" y1="192.76" x2="82.60" y2="192.76" stroke="#111" stroke-width="1.0"/>
<rect x="78.95" y="193.82" width="4.30" height="39.98" fill="#000" stroke="#111" stroke-width="0.9"/>
<line x1="92.85" y1="230.74" x2="92.85" y2="230.12" stroke="#111" stroke-width="1.0"/>
<line x1="91.35" y1="230.12" x2="94.35" y2="230.12" stroke="#111" stroke-width="1.0"/>
<rect x="90.55" y="231.19" width="4.60" height="2.61" fill="#fff" stroke="#111" stroke-width="0.9"/>
<line x1="100.40" y1="206.24" x2="100.40" y2="203.18" stroke="#111" stroke-width="1.0"/>
<line x1="98.90" y1="203.18" x2="101.90" y2="203.18" stroke="#111" stroke-width="1.0"/>
<rect x="98.10" y="206.69" width="4.60" height="27.11" fill="#e4e4e4" stroke="#111" stroke-width="0.9"/>
<line x1="107.95" y1="200.11" x2="107.95" y2="196.44" stroke="#111" stroke-width="1.0"/>
<line x1="106.45" y1="196.44" x2="109.45" y2="196.44" stroke="#111" stroke-width="1.0"/>
<rect x="105.65" y="200.56" width="4.60" height="33.24" fill="#a8a8a8" stroke="#111" stroke-width="0.9"/>
<line x1="115.50" y1="190.31" x2="115.50" y2="189.09" stroke="#111" stroke-width="1.0"/>
<line x1="114.00" y1="189.09" x2="117.00" y2="189.09" stroke="#111" stroke-width="1.0"/>
<rect x="113.20" y="190.76" width="4.60" height="43.04" fill="#6c6c6c" stroke="#111" stroke-width="0.9"/>
<line x1="123.05" y1="187.25" x2="123.05" y2="185.41" stroke="#111" stroke-width="1.0"/>
<line x1="121.55" y1="185.41" x2="124.55" y2="185.41" stroke="#111" stroke-width="1.0"/>
<rect x="120.75" y="187.70" width="4.60" height="46.10" fill="#000" stroke="#111" stroke-width="0.9"/>
<line x1="135.15" y1="233.49" x2="135.15" y2="232.27" stroke="#111" stroke-width="1.0"/>
<line x1="133.65" y1="232.27" x2="136.65" y2="232.27" stroke="#111" stroke-width="1.0"/>
<rect x="132.95" y="233.80" width="4.40" height="0.14" fill="#444" stroke="#111" stroke-width="0.9"/>
<line x1="142.60" y1="213.83" x2="142.60" y2="211.14" stroke="#111" stroke-width="1.0"/>
<line x1="141.10" y1="211.14" x2="144.10" y2="211.14" stroke="#111" stroke-width="1.0"/>
<rect x="140.40" y="214.28" width="4.40" height="19.52" fill="#e4e4e4" stroke="#111" stroke-width="0.9"/>
<line x1="150.05" y1="210.04" x2="150.05" y2="207.46" stroke="#111" stroke-width="1.0"/>
<line x1="148.55" y1="207.46" x2="151.55" y2="207.46" stroke="#111" stroke-width="1.0"/>
<rect x="147.85" y="210.49" width="4.40" height="23.31" fill="#a8a8a8" stroke="#111" stroke-width="0.9"/>
<line x1="157.50" y1="206.24" x2="157.50" y2="201.34" stroke="#111" stroke-width="1.0"/>
<line x1="156.00" y1="201.34" x2="159.00" y2="201.34" stroke="#111" stroke-width="1.0"/>
<rect x="155.30" y="206.69" width="4.40" height="27.11" fill="#6c6c6c" stroke="#111" stroke-width="0.9"/>
<line x1="164.95" y1="202.56" x2="164.95" y2="201.95" stroke="#111" stroke-width="1.0"/>
<line x1="163.45" y1="201.95" x2="166.45" y2="201.95" stroke="#111" stroke-width="1.0"/>
<rect x="162.75" y="203.01" width="4.40" height="30.79" fill="#000" stroke="#111" stroke-width="0.9"/>
<line x1="177.20" y1="235.33" x2="177.20" y2="235.94" stroke="#111" stroke-width="1.0"/>
<line x1="175.70" y1="235.94" x2="178.70" y2="235.94" stroke="#111" stroke-width="1.0"/>
<rect x="174.95" y="233.80" width="4.50" height="1.08" fill="#444" stroke="#111" stroke-width="0.9"/>
<line x1="184.70" y1="212.98" x2="184.70" y2="212.36" stroke="#111" stroke-width="1.0"/>
<line x1="183.20" y1="212.36" x2="186.20" y2="212.36" stroke="#111" stroke-width="1.0"/>
<rect x="182.45" y="213.43" width="4.50" height="20.38" fill="#e4e4e4" stroke="#111" stroke-width="0.9"/>
<line x1="192.20" y1="207.46" x2="192.20" y2="204.40" stroke="#111" stroke-width="1.0"/>
<line x1="190.70" y1="204.40" x2="193.70" y2="204.40" stroke="#111" stroke-width="1.0"/>
<rect x="189.95" y="207.91" width="4.50" height="25.89" fill="#a8a8a8" stroke="#111" stroke-width="0.9"/>
<line x1="199.70" y1="207.46" x2="199.70" y2="201.95" stroke="#111" stroke-width="1.0"/>
<line x1="198.20" y1="201.95" x2="201.20" y2="201.95" stroke="#111" stroke-width="1.0"/>
<rect x="197.45" y="207.91" width="4.50" height="25.89" fill="#6c6c6c" stroke="#111" stroke-width="0.9"/>
<line x1="207.20" y1="191.54" x2="207.20" y2="185.41" stroke="#111" stroke-width="1.0"/>
<line x1="205.70" y1="185.41" x2="208.70" y2="185.41" stroke="#111" stroke-width="1.0"/>
<rect x="204.95" y="191.99" width="4.50" height="41.81" fill="#000" stroke="#111" stroke-width="0.9"/>
<line x1="65.70" y1="233.80" x2="65.70" y2="236.00" stroke="#111" stroke-width="0.8"/>
<line x1="107.50" y1="233.80" x2="107.50" y2="236.00" stroke="#111" stroke-width="0.8"/>
<line x1="149.40" y1="233.80" x2="149.40" y2="236.00" stroke="#111" stroke-width="0.8"/>
<line x1="191.50" y1="233.80" x2="191.50" y2="236.00" stroke="#111" stroke-width="0.8"/>
<text x="73.60" y="250.80" font-size="10.2" text-anchor="start" font-weight="normal" fill="#111" stroke="#111" stroke-width="0.5" >JM60-mcMMAF (µg/ml)</text>
<rect x="223.70" y="184.20" width="4.40" height="4.40" fill="#fff" stroke="#111" stroke-width="0.9"/>
<text x="233.00" y="189.60" font-size="8.8" text-anchor="start" font-weight="normal" fill="#111" stroke="#111" stroke-width="0.5" >0</text>
<rect x="223.70" y="193.10" width="4.40" height="4.40" fill="#e4e4e4" stroke="#111" stroke-width="0.9"/>
<text x="233.00" y="198.50" font-size="8.8" text-anchor="start" font-weight="normal" fill="#111" stroke="#111" stroke-width="0.5" >0. 01</text>
<rect x="223.70" y="201.80" width="4.40" height="4.40" fill="#a8a8a8" stroke="#111" stroke-width="0.9"/>
<text x="233.00" y="207.20" font-size="8.8" text-anchor="start" font-weight="normal" fill="#111" stroke="#111" stroke-width="0.5" >0.1</text>
<rect x="223.70" y="210.20" width="4.40" height="4.40" fill="#6c6c6c" stroke="#111" stroke-width="0.9"/>
<text x="233.00" y="215.60" font-size="8.8" text-anchor="start" font-weight="normal" fill="#111" stroke="#111" stroke-width="0.5" >1</text>
<rect x="223.70" y="218.60" width="4.40" height="4.40" fill="#000" stroke="#111" stroke-width="0.9"/>
<text x="233.00" y="224.00" font-size="8.8" text-anchor="start" font-weight="normal" fill="#111" stroke="#111" stroke-width="0.5" >10</text>
<text x="271.20" y="150.00" font-size="10.8" text-anchor="start" font-weight="bold" fill="#111" stroke="#111" stroke-width="0.5" >C</text>
<text x="347.00" y="151.70" font-size="10.15" text-anchor="start" font-weight="normal" fill="#111" stroke="#111" stroke-width="0.5" >Target: MM patient cells</text>
<line x1="317.00" y1="171.00" x2="317.00" y2="247.60" stroke="#111" stroke-width="1.0"/>
<line x1="314.80" y1="247.45" x2="317.00" y2="247.45" stroke="#111" stroke-width="0.9"/>
<text x="312.00" y="252.05" font-size="8.8" text-anchor="end" font-weight="normal" fill="#111" stroke="#111" stroke-width="0.5" >-15</text>
<line x1="314.80" y1="236.20" x2="317.00" y2="236.20" stroke="#111" stroke-width="0.9"/>
<text x="312.00" y="240.80" font-size="8.8" text-anchor="end" font-weight="normal" fill="#111" stroke="#111" stroke-width="0.5" >0</text>
<line x1="314.80" y1="224.95" x2="317.00" y2="224.95" stroke="#111" stroke-width="0.9"/>
<text x="312.00" y="229.55" font-size="8.8" text-anchor="end" font-weight="normal" fill="#111" stroke="#111" stroke-width="0.5" >15</text>
<line x1="314.80" y1="213.70" x2="317.00" y2="213.70" stroke="#111" stroke-width="0.9"/>
<text x="312.00" y="218.30" font-size="8.8" text-anchor="end" font-weight="normal" fill="#111" stroke="#111" stroke-width="0.5" >30</text>
<line x1="314.80" y1="202.45" x2="317.00" y2="202.45" stroke="#111" stroke-width="0.9"/>
<text x="312.00" y="207.05" font-size="8.8" text-anchor="end" font-weight="normal" fill="#111" stroke="#111" stroke-width="0.5" >45</text>
<line x1="314.80" y1="191.20" x2="317.00" y2="191.20" stroke="#111" stroke-width="0.9"/>
<text x="312.00" y="195.80" font-size="8.8" text-anchor="end" font-weight="normal" fill="#111" stroke="#111" stroke-width="0.5" >60</text>
<line x1="314.80" y1="179.95" x2="317.00" y2="179.95" stroke="#111" stroke-width="0.9"/>
<text x="312.00" y="184.55" font-size="8.8" text-anchor="end" font-weight="normal" fill="#111" stroke="#111" stroke-width="0.5" >75</text>
<line x1="317.00" y1="236.20" x2="480.00" y2="236.20" stroke="#111" stroke-width="1.0"/>
<text x="272.30" y="201.90" font-size="9.3" text-anchor="start" font-weight="normal" fill="#111" stroke="#111" stroke-width="0.5" >%</text>
<text x="272.00" y="213.80" font-size="10.3" text-anchor="start" font-weight="normal" fill="#111" stroke="#111" stroke-width="0.5" >lysis</text>
<line x1="321.50" y1="177.20" x2="354.40" y2="177.20" stroke="#222" stroke-width="1.0"/>
<line x1="358.80" y1="177.20" x2="391.50" y2="177.20" stroke="#222" stroke-width="1.0"/>
<line x1="401.90" y1="177.20" x2="435.70" y2="177.20" stroke="#222" stroke-width="1.0"/>
<line x1="444.80" y1="177.20" x2="478.80" y2="177.20" stroke="#222" stroke-width="1.0"/>
<text x="338.80" y="174.80" font-size="10" text-anchor="middle" font-weight="normal" fill="#111" stroke="#111" stroke-width="0.5" >-</text>
<text x="364.80" y="174.70" font-size="8.6" text-anchor="start" font-weight="normal" fill="#111" stroke="#111" stroke-width="0.5" >+ Len</text>
<text x="403.20" y="174.70" font-size="8.6" text-anchor="start" font-weight="normal" fill="#111" stroke="#111" stroke-width="0.5" >+ BMSC</text>
<text x="446.30" y="164.50" font-size="8.6" text-anchor="start" font-weight="normal" fill="#111" stroke="#111" stroke-width="0.5" >+ Len</text>
<text x="446.30" y="174.70" font-size="8.6" text-anchor="start" font-weight="normal" fill="#111" stroke="#111" stroke-width="0.5" >+ BMSC</text>
<line x1="324.30" y1="224.20" x2="324.30" y2="220.45" stroke="#111" stroke-width="1.0"/>
<line x1="322.80" y1="220.45" x2="325.80" y2="220.45" stroke="#111" stroke-width="1.0"/>
<rect x="321.75" y="224.65" width="5.10" height="11.55" fill="#fff" stroke="#111" stroke-width="0.9"/>
<line x1="333.10" y1="209.20" x2="333.10" y2="205.45" stroke="#111" stroke-width="1.0"/>
<line x1="331.60" y1="205.45" x2="334.60" y2="205.45" stroke="#111" stroke-width="1.0"/>
<rect x="330.55" y="209.65" width="5.10" height="26.55" fill="#e4e4e4" stroke="#111" stroke-width="0.9"/>
<line x1="341.90" y1="204.70" x2="341.90" y2="200.20" stroke="#111" stroke-width="1.0"/>
<line x1="340.40" y1="200.20" x2="343.40" y2="200.20" stroke="#111" stroke-width="1.0"/>
<rect x="339.35" y="205.15" width="5.10" height="31.05" fill="#808080" stroke="#111" stroke-width="0.9"/>
<line x1="350.70" y1="203.95" x2="350.70" y2="197.95" stroke="#111" stroke-width="1.0"/>
<line x1="349.20" y1="197.95" x2="352.20" y2="197.95" stroke="#111" stroke-width="1.0"/>
<rect x="348.15" y="204.40" width="5.10" height="31.80" fill="#000" stroke="#111" stroke-width="0.9"/>
<line x1="365.00" y1="215.20" x2="365.00" y2="212.95" stroke="#111" stroke-width="1.0"/>
<line x1="363.50" y1="212.95" x2="366.50" y2="212.95" stroke="#111" stroke-width="1.0"/>
<rect x="362.45" y="215.65" width="5.10" height="20.55" fill="#fff" stroke="#111" stroke-width="0.9"/>
<line x1="373.80" y1="209.20" x2="373.80" y2="206.20" stroke="#111" stroke-width="1.0"/>
<line x1="372.30" y1="206.20" x2="375.30" y2="206.20" stroke="#111" stroke-width="1.0"/>
<rect x="371.25" y="209.65" width="5.10" height="26.55" fill="#e4e4e4" stroke="#111" stroke-width="0.9"/>
<line x1="382.60" y1="196.45" x2="382.60" y2="191.20" stroke="#111" stroke-width="1.0"/>
<line x1="381.10" y1="191.20" x2="384.10" y2="191.20" stroke="#111" stroke-width="1.0"/>
<rect x="380.05" y="196.90" width="5.10" height="39.30" fill="#808080" stroke="#111" stroke-width="0.9"/>
<line x1="391.40" y1="193.45" x2="391.40" y2="190.45" stroke="#111" stroke-width="1.0"/>
<line x1="389.90" y1="190.45" x2="392.90" y2="190.45" stroke="#111" stroke-width="1.0"/>
<rect x="388.85" y="193.90" width="5.10" height="42.30" fill="#000" stroke="#111" stroke-width="0.9"/>
<line x1="405.60" y1="238.90" x2="405.60" y2="240.40" stroke="#111" stroke-width="1.0"/>
<line x1="404.10" y1="240.40" x2="407.10" y2="240.40" stroke="#111" stroke-width="1.0"/>
<rect x="403.05" y="236.20" width="5.10" height="2.25" fill="#fff" stroke="#111" stroke-width="0.9"/>
<line x1="414.40" y1="219.92" x2="414.40" y2="218.95" stroke="#111" stroke-width="1.0"/>
<line x1="412.90" y1="218.95" x2="415.90" y2="218.95" stroke="#111" stroke-width="1.0"/>
<rect x="411.85" y="220.37" width="5.10" height="15.83" fill="#e4e4e4" stroke="#111" stroke-width="0.9"/>
<line x1="423.20" y1="219.70" x2="423.20" y2="215.20" stroke="#111" stroke-width="1.0"/>
<line x1="421.70" y1="215.20" x2="424.70" y2="215.20" stroke="#111" stroke-width="1.0"/>
<rect x="420.65" y="220.15" width="5.10" height="16.05" fill="#808080" stroke="#111" stroke-width="0.9"/>
<line x1="432.00" y1="217.45" x2="432.00" y2="211.45" stroke="#111" stroke-width="1.0"/>
<line x1="430.50" y1="211.45" x2="433.50" y2="211.45" stroke="#111" stroke-width="1.0"/>
<rect x="429.45" y="217.90" width="5.10" height="18.30" fill="#000" stroke="#111" stroke-width="0.9"/>
<line x1="446.70" y1="221.95" x2="446.70" y2="219.70" stroke="#111" stroke-width="1.0"/>
<line x1="445.20" y1="219.70" x2="448.20" y2="219.70" stroke="#111" stroke-width="1.0"/>
<rect x="444.15" y="222.40" width="5.10" height="13.80" fill="#fff" stroke="#111" stroke-width="0.9"/>
<line x1="455.50" y1="218.95" x2="455.50" y2="215.95" stroke="#111" stroke-width="1.0"/>
<line x1="454.00" y1="215.95" x2="457.00" y2="215.95" stroke="#111" stroke-width="1.0"/>
<rect x="452.95" y="219.40" width="5.10" height="16.80" fill="#e4e4e4" stroke="#111" stroke-width="0.9"/>
<line x1="464.30" y1="209.95" x2="464.30" y2="206.95" stroke="#111" stroke-width="1.0"/>
<line x1="462.80" y1="206.95" x2="465.80" y2="206.95" stroke="#111" stroke-width="1.0"/>
<rect x="461.75" y="210.40" width="5.10" height="25.80" fill="#808080" stroke="#111" stroke-width="0.9"/>
<line x1="473.10" y1="208.45" x2="473.10" y2="204.70" stroke="#111" stroke-width="1.0"/>
<line x1="471.60" y1="204.70" x2="474.60" y2="204.70" stroke="#111" stroke-width="1.0"/>
<rect x="470.55" y="208.90" width="5.10" height="27.30" fill="#000" stroke="#111" stroke-width="0.9"/>
<line x1="337.30" y1="236.20" x2="337.30" y2="238.40" stroke="#111" stroke-width="0.8"/>
<line x1="378.30" y1="236.20" x2="378.30" y2="238.40" stroke="#111" stroke-width="0.8"/>
<line x1="418.80" y1="236.20" x2="418.80" y2="238.40" stroke="#111" stroke-width="0.8"/>
<line x1="459.90" y1="236.20" x2="459.90" y2="238.40" stroke="#111" stroke-width="0.8"/>
<text x="329.20" y="253.30" font-size="10.0" text-anchor="start" font-weight="normal" fill="#111" stroke="#111" stroke-width="0.5" >JM60-mcMMAF (µg/ml)</text>
<rect x="492.20" y="183.95" width="4.70" height="4.70" fill="#fff" stroke="#111" stroke-width="1.0"/>
<text x="501.30" y="189.10" font-size="8.8" text-anchor="start" font-weight="normal" fill="#111" stroke="#111" stroke-width="0.5" >0</text>
<rect x="492.20" y="192.65" width="4.70" height="4.70" fill="#e4e4e4" stroke="#111" stroke-width="1.0"/>
<text x="501.30" y="197.80" font-size="8.8" text-anchor="start" font-weight="normal" fill="#111" stroke="#111" stroke-width="0.5" >0. 1</text>
<rect x="492.20" y="201.45" width="4.70" height="4.70" fill="#808080" stroke="#111" stroke-width="1.0"/>
<text x="501.30" y="206.60" font-size="8.8" text-anchor="start" font-weight="normal" fill="#111" stroke="#111" stroke-width="0.5" >1</text>
<rect x="492.20" y="210.15" width="4.70" height="4.70" fill="#000" stroke="#111" stroke-width="1.0"/>
<text x="501.30" y="215.30" font-size="8.8" text-anchor="start" font-weight="normal" fill="#111" stroke="#111" stroke-width="0.5" >10</text>
<text x="0.80" y="277.60" font-size="11" text-anchor="start" font-weight="bold" fill="#111" stroke="#111" stroke-width="0.5" >D</text>
<line x1="44.60" y1="271.00" x2="44.60" y2="352.00" stroke="#111" stroke-width="1.0"/>
<line x1="42.40" y1="340.90" x2="44.60" y2="340.90" stroke="#111" stroke-width="0.9"/>
<text x="35.90" y="344.30" font-size="8.8" text-anchor="end" font-weight="normal" fill="#111" stroke="#111" stroke-width="0.5" >0</text>
<line x1="42.40" y1="323.57" x2="44.60" y2="323.57" stroke="#111" stroke-width="0.9"/>
<text x="35.90" y="326.97" font-size="8.8" text-anchor="end" font-weight="normal" fill="#111" stroke="#111" stroke-width="0.5" >15</text>
<line x1="42.40" y1="306.25" x2="44.60" y2="306.25" stroke="#111" stroke-width="0.9"/>
<text x="35.90" y="309.65" font-size="8.8" text-anchor="end" font-weight="normal" fill="#111" stroke="#111" stroke-width="0.5" >30</text>
<line x1="42.40" y1="288.92" x2="44.60" y2="288.92" stroke="#111" stroke-width="0.9"/>
<text x="35.90" y="292.32" font-size="8.8" text-anchor="end" font-weight="normal" fill="#111" stroke="#111" stroke-width="0.5" >45</text>
<line x1="42.40" y1="271.60" x2="44.60" y2="271.60" stroke="#111" stroke-width="0.9"/>
<text x="35.90" y="275.00" font-size="8.8" text-anchor="end" font-weight="normal" fill="#111" stroke="#111" stroke-width="0.5" >60</text>
<line x1="44.60" y1="340.90" x2="445.00" y2="340.90" stroke="#111" stroke-width="1.0"/>
<text x="0.40" y="303.70" font-size="9.8" text-anchor="start" font-weight="normal" fill="#111" stroke="#111" stroke-width="0.5" >%</text>
<text x="-0.80" y="315.40" font-size="10.3" text-anchor="start" font-weight="normal" fill="#111" stroke="#111" stroke-width="0.5" >lysis</text>
<rect x="50.45" y="332.11" width="8.20" height="8.79" fill="#fff" stroke="#111" stroke-width="0.9"/>
<line x1="66.80" y1="336.63" x2="66.80" y2="335.70" stroke="#111" stroke-width="1.15"/>
<line x1="64.60" y1="335.70" x2="69.00" y2="335.70" stroke="#111" stroke-width="1.15"/>
<rect x="62.70" y="337.08" width="8.20" height="3.82" fill="#e4e4e4" stroke="#111" stroke-width="0.9"/>
<line x1="79.05" y1="319.42" x2="79.05" y2="313.18" stroke="#111" stroke-width="1.15"/>
<line x1="76.85" y1="313.18" x2="81.25" y2="313.18" stroke="#111" stroke-width="1.15"/>
<rect x="74.95" y="319.87" width="8.20" height="21.03" fill="#a0a0a0" stroke="#111" stroke-width="0.9"/>
<line x1="91.30" y1="298.16" x2="91.30" y2="292.97" stroke="#111" stroke-width="1.15"/>
<line x1="89.10" y1="292.97" x2="93.50" y2="292.97" stroke="#111" stroke-width="1.15"/>
<rect x="87.20" y="298.61" width="8.20" height="42.29" fill="#000" stroke="#111" stroke-width="0.9"/>
<line x1="72.92" y1="340.90" x2="72.92" y2="343.40" stroke="#111" stroke-width="0.8"/>
<line x1="112.05" y1="332.81" x2="112.05" y2="331.66" stroke="#111" stroke-width="1.15"/>
<line x1="109.85" y1="331.66" x2="114.25" y2="331.66" stroke="#111" stroke-width="1.15"/>
<rect x="107.95" y="333.26" width="8.20" height="7.63" fill="#fff" stroke="#111" stroke-width="0.9"/>
<line x1="124.30" y1="323.92" x2="124.30" y2="321.26" stroke="#111" stroke-width="1.15"/>
<line x1="122.10" y1="321.26" x2="126.50" y2="321.26" stroke="#111" stroke-width="1.15"/>
<rect x="120.20" y="324.37" width="8.20" height="16.53" fill="#e4e4e4" stroke="#111" stroke-width="0.9"/>
<line x1="136.55" y1="306.94" x2="136.55" y2="301.63" stroke="#111" stroke-width="1.15"/>
<line x1="134.35" y1="301.63" x2="138.75" y2="301.63" stroke="#111" stroke-width="1.15"/>
<rect x="132.45" y="307.39" width="8.20" height="33.51" fill="#a0a0a0" stroke="#111" stroke-width="0.9"/>
<line x1="148.80" y1="283.96" x2="148.80" y2="278.88" stroke="#111" stroke-width="1.15"/>
<line x1="146.60" y1="278.88" x2="151.00" y2="278.88" stroke="#111" stroke-width="1.15"/>
<rect x="144.70" y="284.41" width="8.20" height="56.49" fill="#000" stroke="#111" stroke-width="0.9"/>
<line x1="130.43" y1="340.90" x2="130.43" y2="343.40" stroke="#111" stroke-width="0.8"/>
<line x1="168.85" y1="332.01" x2="168.85" y2="329.35" stroke="#111" stroke-width="1.15"/>
<line x1="166.65" y1="329.35" x2="171.05" y2="329.35" stroke="#111" stroke-width="1.15"/>
<rect x="164.75" y="332.46" width="8.20" height="8.44" fill="#fff" stroke="#111" stroke-width="0.9"/>
<line x1="181.10" y1="327.27" x2="181.10" y2="323.92" stroke="#111" stroke-width="1.15"/>
<line x1="178.90" y1="323.92" x2="183.30" y2="323.92" stroke="#111" stroke-width="1.15"/>
<rect x="177.00" y="327.72" width="8.20" height="13.18" fill="#e4e4e4" stroke="#111" stroke-width="0.9"/>
<line x1="193.35" y1="322.65" x2="193.35" y2="319.65" stroke="#111" stroke-width="1.15"/>
<line x1="191.15" y1="319.65" x2="195.55" y2="319.65" stroke="#111" stroke-width="1.15"/>
<rect x="189.25" y="323.10" width="8.20" height="17.80" fill="#a0a0a0" stroke="#111" stroke-width="0.9"/>
<line x1="205.60" y1="310.87" x2="205.60" y2="306.94" stroke="#111" stroke-width="1.15"/>
<line x1="203.40" y1="306.94" x2="207.80" y2="306.94" stroke="#111" stroke-width="1.15"/>
<rect x="201.50" y="311.32" width="8.20" height="29.58" fill="#000" stroke="#111" stroke-width="0.9"/>
<line x1="187.23" y1="340.90" x2="187.23" y2="343.40" stroke="#111" stroke-width="0.8"/>
<line x1="225.85" y1="339.75" x2="225.85" y2="337.90" stroke="#111" stroke-width="1.15"/>
<line x1="223.65" y1="337.90" x2="228.05" y2="337.90" stroke="#111" stroke-width="1.15"/>
<rect x="221.75" y="340.19" width="8.20" height="0.70" fill="#fff" stroke="#111" stroke-width="0.9"/>
<line x1="238.10" y1="333.51" x2="238.10" y2="330.97" stroke="#111" stroke-width="1.15"/>
<line x1="235.90" y1="330.97" x2="240.30" y2="330.97" stroke="#111" stroke-width="1.15"/>
<rect x="234.00" y="333.96" width="8.20" height="6.94" fill="#e4e4e4" stroke="#111" stroke-width="0.9"/>
<line x1="250.35" y1="320.69" x2="250.35" y2="315.03" stroke="#111" stroke-width="1.15"/>
<line x1="248.15" y1="315.03" x2="252.55" y2="315.03" stroke="#111" stroke-width="1.15"/>
<rect x="246.25" y="321.14" width="8.20" height="19.76" fill="#a0a0a0" stroke="#111" stroke-width="0.9"/>
<line x1="262.60" y1="310.87" x2="262.60" y2="300.47" stroke="#111" stroke-width="1.15"/>
<line x1="260.40" y1="300.47" x2="264.80" y2="300.47" stroke="#111" stroke-width="1.15"/>
<rect x="258.50" y="311.32" width="8.20" height="29.58" fill="#000" stroke="#111" stroke-width="0.9"/>
<line x1="244.23" y1="340.90" x2="244.23" y2="343.40" stroke="#111" stroke-width="0.8"/>
<line x1="283.35" y1="333.51" x2="283.35" y2="331.54" stroke="#111" stroke-width="1.15"/>
<line x1="281.15" y1="331.54" x2="285.55" y2="331.54" stroke="#111" stroke-width="1.15"/>
<rect x="279.25" y="333.96" width="8.20" height="6.94" fill="#fff" stroke="#111" stroke-width="0.9"/>
<line x1="295.60" y1="327.73" x2="295.60" y2="326.23" stroke="#111" stroke-width="1.15"/>
<line x1="293.40" y1="326.23" x2="297.80" y2="326.23" stroke="#111" stroke-width="1.15"/>
<rect x="291.50" y="328.18" width="8.20" height="12.72" fill="#e4e4e4" stroke="#111" stroke-width="0.9"/>
<line x1="307.85" y1="324.44" x2="307.85" y2="322.65" stroke="#111" stroke-width="1.15"/>
<line x1="305.65" y1="322.65" x2="310.05" y2="322.65" stroke="#111" stroke-width="1.15"/>
<rect x="303.75" y="324.89" width="8.20" height="16.01" fill="#a0a0a0" stroke="#111" stroke-width="0.9"/>
<line x1="320.10" y1="299.90" x2="320.10" y2="295.51" stroke="#111" stroke-width="1.15"/>
<line x1="317.90" y1="295.51" x2="322.30" y2="295.51" stroke="#111" stroke-width="1.15"/>
<rect x="316.00" y="300.35" width="8.20" height="40.55" fill="#000" stroke="#111" stroke-width="0.9"/>
<line x1="301.73" y1="340.90" x2="301.73" y2="343.40" stroke="#111" stroke-width="0.8"/>
<line x1="340.85" y1="347.83" x2="340.85" y2="348.87" stroke="#111" stroke-width="1.15"/>
<line x1="338.65" y1="348.87" x2="343.05" y2="348.87" stroke="#111" stroke-width="1.15"/>
<rect x="336.75" y="340.90" width="8.20" height="6.48" fill="#fff" stroke="#111" stroke-width="0.9"/>
<line x1="353.10" y1="333.51" x2="353.10" y2="329.81" stroke="#111" stroke-width="1.15"/>
<line x1="350.90" y1="329.81" x2="355.30" y2="329.81" stroke="#111" stroke-width="1.15"/>
<rect x="349.00" y="333.96" width="8.20" height="6.94" fill="#e4e4e4" stroke="#111" stroke-width="0.9"/>
<line x1="365.35" y1="336.05" x2="365.35" y2="332.81" stroke="#111" stroke-width="1.15"/>
<line x1="363.15" y1="332.81" x2="367.55" y2="332.81" stroke="#111" stroke-width="1.15"/>
<rect x="361.25" y="336.50" width="8.20" height="4.40" fill="#a0a0a0" stroke="#111" stroke-width="0.9"/>
<line x1="377.60" y1="329.00" x2="377.60" y2="325.88" stroke="#111" stroke-width="1.15"/>
<line x1="375.40" y1="325.88" x2="379.80" y2="325.88" stroke="#111" stroke-width="1.15"/>
<rect x="373.50" y="329.45" width="8.20" height="11.45" fill="#000" stroke="#111" stroke-width="0.9"/>
<line x1="359.23" y1="340.90" x2="359.23" y2="343.40" stroke="#111" stroke-width="0.8"/>
<line x1="397.05" y1="336.05" x2="397.05" y2="331.54" stroke="#111" stroke-width="1.15"/>
<line x1="394.85" y1="331.54" x2="399.25" y2="331.54" stroke="#111" stroke-width="1.15"/>
<rect x="392.95" y="336.50" width="8.20" height="4.40" fill="#fff" stroke="#111" stroke-width="0.9"/>
<line x1="409.30" y1="333.28" x2="409.30" y2="329.81" stroke="#111" stroke-width="1.15"/>
<line x1="407.10" y1="329.81" x2="411.50" y2="329.81" stroke="#111" stroke-width="1.15"/>
<rect x="405.20" y="333.73" width="8.20" height="7.17" fill="#e4e4e4" stroke="#111" stroke-width="0.9"/>
<line x1="421.55" y1="318.95" x2="421.55" y2="314.57" stroke="#111" stroke-width="1.15"/>
<line x1="419.35" y1="314.57" x2="423.75" y2="314.57" stroke="#111" stroke-width="1.15"/>
<rect x="417.45" y="319.40" width="8.20" height="21.50" fill="#a0a0a0" stroke="#111" stroke-width="0.9"/>
<line x1="433.80" y1="315.84" x2="433.80" y2="312.49" stroke="#111" stroke-width="1.15"/>
<line x1="431.60" y1="312.49" x2="436.00" y2="312.49" stroke="#111" stroke-width="1.15"/>
<rect x="429.70" y="316.29" width="8.20" height="24.61" fill="#000" stroke="#111" stroke-width="0.9"/>
<line x1="415.43" y1="340.90" x2="415.43" y2="343.40" stroke="#111" stroke-width="0.8"/>
<text x="52.50" y="359.00" font-size="10.2" text-anchor="start" font-weight="normal" fill="#111" stroke="#111" stroke-width="0.5" >control</text>
<text x="113.20" y="359.00" font-size="10.1" text-anchor="start" font-weight="normal" fill="#111" stroke="#111" stroke-width="0.5" >+ len</text>
<text x="162.00" y="359.00" font-size="10.1" text-anchor="start" font-weight="normal" fill="#111" stroke="#111" stroke-width="0.5" >+ BMSC</text>
<text x="207.00" y="359.00" font-size="10.1" text-anchor="start" font-weight="normal" fill="#111" stroke="#111" stroke-width="0.5" >+ MM1S</text>
<text x="205.60" y="370.50" font-size="10.1" text-anchor="start" font-weight="normal" fill="#111" stroke="#111" stroke-width="0.5" >supernatants</text>
<text x="272.80" y="359.00" font-size="10.1" text-anchor="start" font-weight="normal" fill="#111" stroke="#111" stroke-width="0.5" >+ BMSC</text>
<text x="272.80" y="370.30" font-size="10.1" text-anchor="start" font-weight="normal" fill="#111" stroke="#111" stroke-width="0.5" >+ len</text>
<text x="321.80" y="359.00" font-size="10.1" text-anchor="start" font-weight="normal" fill="#111" stroke="#111" stroke-width="0.5" >+ MM1S</text>
<text x="322.30" y="370.50" font-size="10.0" text-anchor="start" font-weight="normal" fill="#111" stroke="#111" stroke-width="0.5" >supernatants</text>
<text x="321.80" y="382.20" font-size="10.1" text-anchor="start" font-weight="normal" fill="#111" stroke="#111" stroke-width="0.5" >+ BMSC</text>
<text x="383.40" y="359.00" font-size="10.1" text-anchor="start" font-weight="normal" fill="#111" stroke="#111" stroke-width="0.5" >+ MM1S</text>
<text x="382.60" y="370.50" font-size="10.0" text-anchor="start" font-weight="normal" fill="#111" stroke="#111" stroke-width="0.5" >supernatants</text>
<text x="383.40" y="382.20" font-size="10.1" text-anchor="start" font-weight="normal" fill="#111" stroke="#111" stroke-width="0.5" >+ BMSC</text>
<text x="383.40" y="394.40" font-size="10.1" text-anchor="start" font-weight="normal" fill="#111" stroke="#111" stroke-width="0.5" >+ len</text>
<text x="448.60" y="288.60" font-size="10.0" text-anchor="start" font-weight="normal" fill="#111" stroke="#111" stroke-width="0.5" >JM60-mcMMAF</text>
<text x="448.60" y="302.00" font-size="10.1" text-anchor="start" font-weight="normal" fill="#111" stroke="#111" stroke-width="0.5" >(µg/ml)</text>
<rect x="463.80" y="308.80" width="5.00" height="5.00" fill="#fff" stroke="#111" stroke-width="1.1"/>
<text x="473.30" y="314.50" font-size="8.8" text-anchor="start" font-weight="normal" fill="#111" stroke="#111" stroke-width="0.5" >0</text>
<rect x="463.80" y="317.10" width="5.00" height="5.00" fill="#e4e4e4" stroke="#111" stroke-width="1.1"/>
<text x="473.30" y="322.80" font-size="8.8" text-anchor="start" font-weight="normal" fill="#111" stroke="#111" stroke-width="0.5" >0. 1</text>
<rect x="463.80" y="325.10" width="5.00" height="5.00" fill="#a0a0a0" stroke="#111" stroke-width="1.1"/>
<text x="473.30" y="330.80" font-size="8.8" text-anchor="start" font-weight="normal" fill="#111" stroke="#111" stroke-width="0.5" >1</text>
<rect x="463.80" y="333.70" width="5.00" height="5.00" fill="#000" stroke="#111" stroke-width="1.1"/>
<text x="473.30" y="339.40" font-size="8.8" text-anchor="start" font-weight="normal" fill="#111" stroke="#111" stroke-width="0.5" >10</text>
</g>
</svg>
</body></html>
